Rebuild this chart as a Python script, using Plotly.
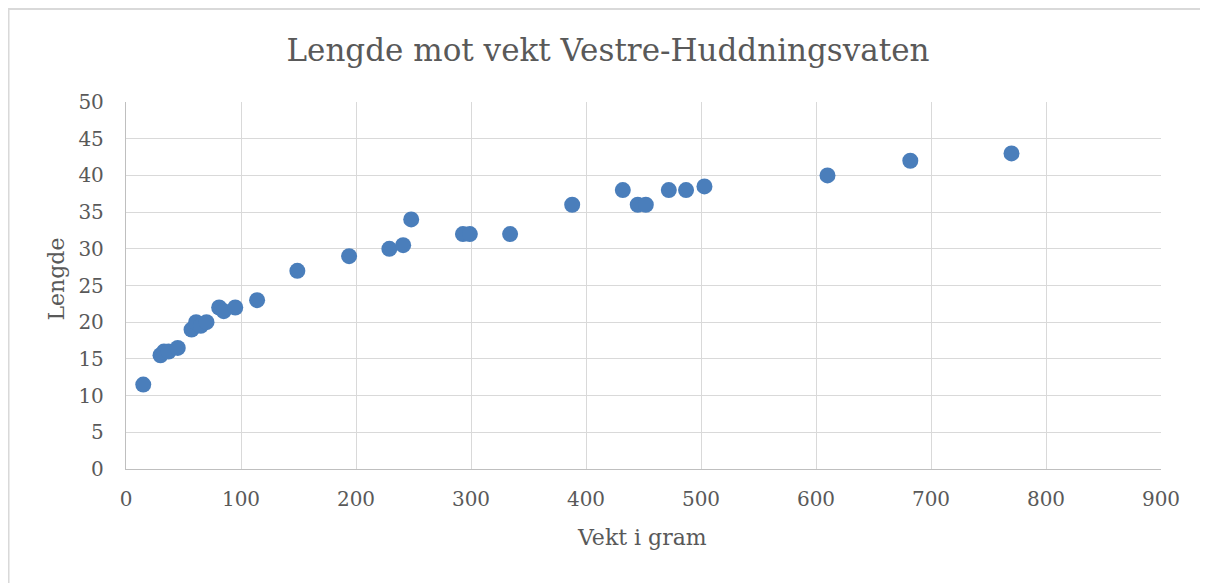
import plotly.graph_objects as go

vekt = [15, 30, 33, 37, 45, 57, 61, 65, 70, 81, 85, 95, 114, 149, 194, 229, 241, 248,
        293, 299, 334, 388, 432, 445, 452, 472, 487, 503, 610, 682, 770]
lengde = [11.5, 15.5, 16, 16, 16.5, 19, 20, 19.5, 20, 22, 21.5, 22, 23, 27, 29, 30, 30.5, 34,
          32, 32, 32, 36, 38, 36, 36, 38, 38, 38.5, 40, 42, 43]

title = "Lengde mot vekt Vestre-Huddningsvaten"
x_title = "Vekt i gram"
y_title = "Lengde"
x_ticks = [0, 100, 200, 300, 400, 500, 600, 700, 800, 900]
y_ticks = [0, 5, 10, 15, 20, 25, 30, 35, 40, 45, 50]

font_fam = "DejaVu Serif, Liberation Serif, serif"
txt = "#595959"

fig = go.Figure(go.Scatter(
    x=vekt, y=lengde, mode="markers",
    marker=dict(size=16, color="#4a7ebb", line=dict(width=0)),
    showlegend=False, cliponaxis=False,
))

fig.update_layout(
    width=1200, height=575,
    margin=dict(l=118, r=47, t=94, b=114),
    paper_bgcolor="white", plot_bgcolor="white",
    title=dict(text=title, x=0.5, xref="container", y=0.927, yref="container",
               xanchor="center", yanchor="middle",
               font=dict(family=font_fam, size=31, color=txt)),
    font=dict(family=font_fam, color=txt),
    xaxis=dict(range=[0, 900], tickvals=x_ticks, ticktext=[str(v) for v in x_ticks],
               showgrid=True, gridcolor="#d9d9d9", gridwidth=1.3,
               zeroline=False, showline=True, linecolor="#bfbfbf", linewidth=1.3,
               ticks="", ticklabelstandoff=12, tickfont=dict(size=20, color=txt)),
    yaxis=dict(range=[0, 50], tickvals=y_ticks, ticktext=[str(v) for v in y_ticks],
               showgrid=True, gridcolor="#d9d9d9", gridwidth=1.3,
               zeroline=False, showline=True, linecolor="#bfbfbf", linewidth=1.3,
               ticks="", ticklabelstandoff=17, tickfont=dict(size=20, color=txt)),
    annotations=[
        dict(text=x_title, xref="paper", yref="paper", x=0.499, y=-0.1853,
             xanchor="center", yanchor="middle", showarrow=False,
             font=dict(family=font_fam, size=22, color=txt)),
        dict(text=y_title, xref="paper", yref="paper", x=-0.0681, y=0.5177,
             xanchor="center", yanchor="middle", showarrow=False, textangle=-90,
             font=dict(family=font_fam, size=22, color=txt)),
    ],
    shapes=[dict(type="rect", xref="paper", yref="paper",
                 x0=-0.1135, x1=1.2, y0=-0.6, y1=1.2534,
                 line=dict(color="#d9d9d9", width=2), fillcolor="rgba(0,0,0,0)", layer="below")],
)

fig.write_html("out.html")
